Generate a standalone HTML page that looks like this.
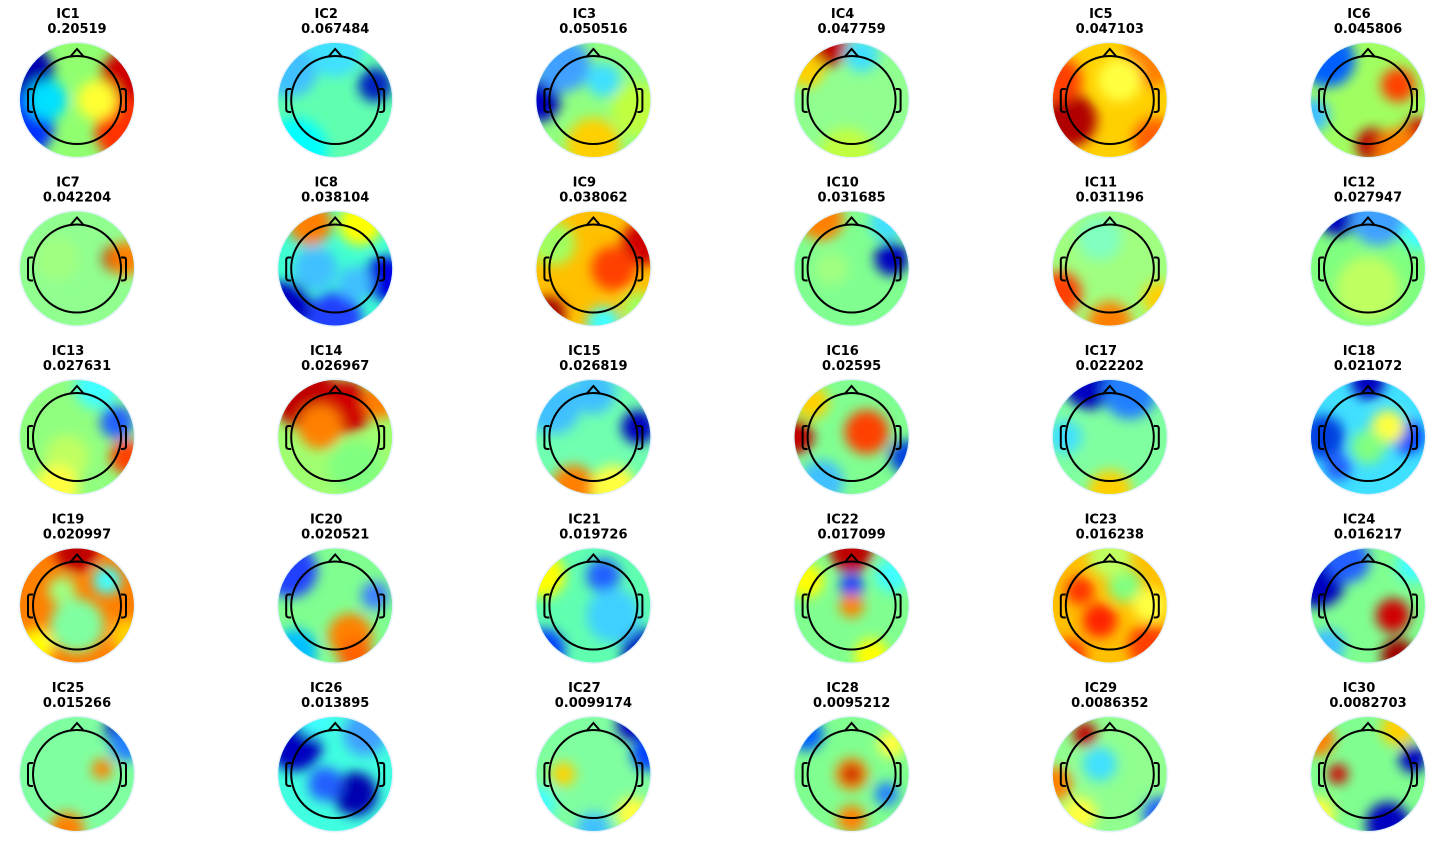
<!DOCTYPE html>
<html><head><meta charset="utf-8"><style>
html,body{margin:0;padding:0;background:#fff;width:1450px;height:842px;overflow:hidden}
svg{display:block}
text{font-family:"DejaVu Sans","Liberation Sans",sans-serif;font-weight:bold;font-size:13px;fill:#000}
</style></head><body>
<svg id="fig" width="1450" height="842" viewBox="0 0 1450 842" xmlns="http://www.w3.org/2000/svg">
<defs>
<filter id="blur" x="-50%" y="-50%" width="200%" height="200%"><feGaussianBlur stdDeviation="6"/></filter>
</defs>
</svg>
<script>
const labels=["IC1","IC2","IC3","IC4","IC5","IC6","IC7","IC8","IC9","IC10","IC11","IC12","IC13","IC14","IC15","IC16","IC17","IC18","IC19","IC20","IC21","IC22","IC23","IC24","IC25","IC26","IC27","IC28","IC29","IC30"];
const varianceText=["0.20519","0.067484","0.050516","0.047759","0.047103","0.045806","0.042204","0.038104","0.038062","0.031685","0.031196","0.027947","0.027631","0.026967","0.026819","0.02595","0.022202","0.021072","0.020997","0.020521","0.019726","0.017099","0.016238","0.016217","0.015266","0.013895","0.0099174","0.0095212","0.0086352","0.0082703"];
const baseColors=["#90ff70","#60ffb0","#90ff80","#90ff90","#ffd000","#a0ff60","#90ff90","#40ffd0","#ffc000","#80ff90","#a0ff80","#80ff80","#90ff80","#a0ff70","#70ffb0","#80ff90","#80ffa0","#40e0ff","#ff8000","#80ff90","#60ffb0","#80ff90","#ffc000","#80ff90","#80ffa0","#40ffe0","#80ffa0","#80ff90","#90ff90","#80ff90"];
const blobs=[
[[-55,-25,30,'#0000b0'],[-55,25,30,'#0030ff'],[-30,0,18,'#00e0ff'],[55,-20,30,'#d00000'],[50,30,30,'#ff3000'],[20,0,18,'#ffff30']],
[[40,-15,15,'#0020c0'],[-40,50,30,'#00ffff'],[-45,-30,25,'#40c0ff'],[0,-50,25,'#40e0ff']],
[[-55,0,20,'#0000c0'],[-30,-35,25,'#40a0ff'],[10,-20,15,'#40e0ff'],[0,45,25,'#ffd000'],[45,10,25,'#c0ff40']],
[[-25,-55,20,'#c00000'],[-45,-30,15,'#ffd000'],[10,-45,15,'#40e0ff'],[-5,55,25,'#c0ff40']],
[[-40,20,25,'#b00000'],[40,-40,25,'#ff8000'],[-50,-20,20,'#ff4000'],[10,-20,20,'#ffff40'],[45,40,20,'#ff6000']],
[[-40,-40,25,'#0060ff'],[-55,15,15,'#40c0ff'],[30,-15,15,'#ff4000'],[5,45,15,'#c00000'],[50,35,15,'#d00000'],[30,50,20,'#ff8000']],
[[40,-10,12,'#c00000'],[50,-10,15,'#ff8000'],[-20,-10,20,'#a0ff80']],
[[-25,-45,20,'#ff8000'],[25,-45,20,'#ffff00'],[-50,40,25,'#0000c0'],[50,10,20,'#0000e0'],[0,50,25,'#2040ff'],[-20,0,20,'#40c0ff'],[20,15,15,'#40c0ff']],
[[50,-25,20,'#d00000'],[-45,45,15,'#a00000'],[20,0,20,'#ff4000'],[-40,-25,20,'#a0ff60'],[10,55,15,'#40ffff'],[45,40,15,'#a0ff60']],
[[40,-10,15,'#0000c0'],[-30,-50,20,'#ff8000'],[35,-45,15,'#40e0ff'],[-20,0,15,'#a0ff80']],
[[-50,25,20,'#ff4000'],[0,55,20,'#ff8000'],[50,30,15,'#ffd000'],[-10,-30,20,'#80ffc0']],
[[-30,-55,20,'#0000c0'],[10,-50,25,'#40a0ff'],[50,-35,15,'#40ffff'],[0,20,30,'#c0ff60']],
[[40,-15,15,'#2060ff'],[50,20,15,'#ff4000'],[20,-50,20,'#40ffff'],[-10,20,20,'#c0ff60'],[-20,50,20,'#ffff40']],
[[-30,-40,30,'#c00000'],[10,-30,25,'#d00000'],[-15,-10,20,'#ff8000'],[45,-35,15,'#ff8000'],[20,30,25,'#80ff80']],
[[45,-10,15,'#0000c0'],[-40,-30,25,'#40c0ff'],[0,-45,20,'#40c0ff'],[-20,50,20,'#ff8000'],[20,50,20,'#ffff40']],
[[-55,0,15,'#c00000'],[15,-5,20,'#ff4000'],[-40,-35,15,'#ffd000'],[55,20,15,'#0040e0'],[-30,45,20,'#40c0ff']],
[[-20,-55,25,'#0000c0'],[20,-45,25,'#2080ff'],[0,55,20,'#ffd000'],[-45,0,15,'#40e0ff']],
[[-45,0,20,'#0040e0'],[40,0,15,'#0040ff'],[0,-55,15,'#0000c0'],[-30,30,12,'#2060ff'],[20,-10,15,'#ffff40'],[0,10,15,'#80ff80']],
[[0,-55,20,'#c00000'],[-15,-15,12,'#a0ff80'],[30,-25,12,'#40ffff'],[0,20,25,'#80ffa0'],[-40,40,15,'#ffff00'],[50,30,15,'#ffd000']],
[[-45,-35,25,'#2040ff'],[-40,45,20,'#00c0ff'],[15,30,20,'#ff8000'],[40,-10,12,'#4080ff'],[20,50,15,'#ff6000']],
[[-50,45,20,'#0040ff'],[50,45,20,'#0000c0'],[10,-30,15,'#2060ff'],[-50,-30,20,'#ffff00'],[20,10,25,'#40d0ff']],
[[0,-55,20,'#c00000'],[0,-20,10,'#0040ff'],[0,0,10,'#ff8000'],[40,-30,15,'#40ffff'],[-45,-25,15,'#ffff00'],[20,50,15,'#ffff00']],
[[-30,-15,12,'#ff3000'],[-10,15,15,'#ff2000'],[-40,50,15,'#ff4000'],[40,40,20,'#ff4000'],[15,-20,15,'#80ff80'],[0,-50,20,'#c0ff60'],[40,0,15,'#ffff40']],
[[-50,-25,25,'#0000c0'],[-20,-45,20,'#2060ff'],[25,10,15,'#d00000'],[30,50,15,'#a00000'],[45,-40,15,'#40ffff'],[-40,40,15,'#40c0ff']],
[[45,-45,15,'#0000c0'],[50,-30,15,'#2080ff'],[25,-5,8,'#ff8000'],[-10,55,15,'#ff8000']],
[[-40,-30,25,'#0000c0'],[20,20,20,'#0000b0'],[-10,10,15,'#2060ff'],[30,-40,20,'#40a0ff'],[-20,-55,15,'#40ffff']],
[[40,-50,15,'#0000c0'],[55,-20,15,'#0040ff'],[-55,30,15,'#40ffff'],[0,55,15,'#40c0ff'],[-30,0,10,'#ffd000'],[40,40,15,'#ffff40']],
[[0,0,14,'#ff8000'],[0,0,7,'#c00000'],[-45,-40,15,'#0060ff'],[35,20,10,'#2080ff'],[0,45,12,'#ff8000'],[40,-30,12,'#ffff40']],
[[-25,-40,10,'#c00000'],[-55,10,15,'#ff8000'],[50,40,15,'#2060ff'],[-10,-10,15,'#40e0ff'],[-30,40,15,'#ffff40']],
[[-30,0,8,'#d00000'],[45,-15,12,'#0000c0'],[20,50,20,'#0000c0'],[30,-45,15,'#ffd000'],[-50,-35,15,'#ff8000'],[-50,40,15,'#ffff40']]
];
const NS="http://www.w3.org/2000/svg";
const svg=document.getElementById('fig');
const defs=svg.querySelector('defs');
function mk(t,a){const e=document.createElementNS(NS,t);for(const k in a)e.setAttribute(k,a[k]);return e;}
const R=57,HR=44;
labels.forEach((lab,i)=>{
  const col=i%6,row=Math.floor(i/6);
  const cx=77+258.2*col, cy=100+168.5*row;
  const g=mk('g',{});
  
  
  const clip=mk('clipPath',{id:'c'+i});clip.appendChild(mk('circle',{cx:cx,cy:cy,r:R}));defs.appendChild(clip);
  const ring=mk('circle',{cx:cx,cy:cy,r:R+1.5,fill:'#e6f2fb'});
  
  
  g.appendChild(ring);
  const cg=mk('g',{'clip-path':'url(#c'+i+')'});
  cg.appendChild(mk('circle',{cx:cx,cy:cy,r:R,fill:baseColors[i]}));
  const bg=mk('g',{filter:'url(#blur)'});
  blobs[i].forEach(b=>{bg.appendChild(mk('circle',{cx:cx+b[0],cy:cy+b[1],r:b[2]+2,fill:b[3]}));});
  cg.appendChild(bg);
  
  
  g.appendChild(cg);
  const head=mk('g',{fill:'none',stroke:'#000','stroke-width':2});
  
  
  head.appendChild(mk('circle',{cx:cx,cy:cy,r:HR}));
  head.appendChild(mk('path',{d:`M${cx-7},${cy-HR+1} L${cx},${cy-HR-7} L${cx+7},${cy-HR+1}`}));
  head.appendChild(mk('path',{d:`M${cx-HR},${cy-11} L${cx-HR-3},${cy-11} Q${cx-HR-5},${cy-11} ${cx-HR-5},${cy-8} L${cx-HR-5},${cy+9} Q${cx-HR-5},${cy+12} ${cx-HR-2},${cy+12} L${cx-HR},${cy+12}`}));
  head.appendChild(mk('path',{d:`M${cx+HR},${cy-11} L${cx+HR+3},${cy-11} Q${cx+HR+5},${cy-11} ${cx+HR+5},${cy-8} L${cx+HR+5},${cy+9} Q${cx+HR+5},${cy+12} ${cx+HR+2},${cy+12} L${cx+HR},${cy+12}`}));
  g.appendChild(head);
  const t1=mk('text',{x:cx-9,y:cy-82,'text-anchor':'middle'});t1.textContent=lab;
  
  
  const t2=mk('text',{x:cx,y:cy-67,'text-anchor':'middle'});t2.textContent=varianceText[i];
  
  
  g.appendChild(t1);g.appendChild(t2);
  svg.appendChild(g);
});
</script>
</body></html>
